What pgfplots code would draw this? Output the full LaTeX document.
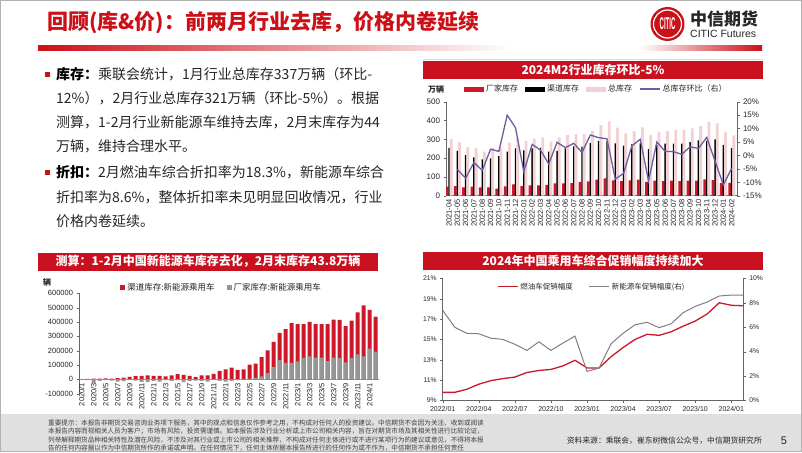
\documentclass[border=0pt]{standalone}
\usepackage{fontspec}
\setmainfont{Liberation Sans}
\newfontfamily\cjk{Noto Sans CJK SC}
\usepackage{graphicx}
\usepackage{pgfplots}
\usepackage{pgfplotstable}
\pgfplotsset{compat=1.18}

\definecolor{tred}{RGB}{204,16,24}
\definecolor{hred}{RGB}{200,16,30}
\definecolor{barred}{RGB}{204,24,40}
\definecolor{pinkbar}{RGB}{242,208,211}
\definecolor{purp}{RGB}{112,92,160}
\definecolor{txt}{RGB}{38,38,38}
\definecolor{foot}{RGB}{224,224,224}
\definecolor{nevgray}{RGB}{150,150,150}
\definecolor{linegray}{RGB}{128,128,128}

\pgfplotstableread{
i fac chan tot mom
0 48 255 301 nan
1 51 238 284 -5.2
2 44 216 259 -8.5
3 48 204 252 -2.6
4 44 193 234 -5.6
5 44 199 255 2.3
6 37 211 257 1.5
7 50 234 282 15.0
8 60 252 309 10.3
9 51 241 291 -6.1
10 55 252 305 4.1
11 55 255 310 2.0
12 57 234 287 -3.2
13 66 239 310 4.9
14 66 252 323 2.9
15 67 262 328 4.5
16 73 261 328 1.1
17 76 280 344 7.6
18 85 291 376 6.6
19 92 289 395 6.2
20 82 278 362 -8.8
21 78 266 332 -6.7
22 82 273 344 3.6
23 85 278 363 6.0
24 74 248 323 -9.5
25 80 271 339 5.0
26 78 277 344 1.5
27 80 277 349 1.4
28 78 277 349 0.4
29 80 285 358 3.2
30 80 294 372 2.6
31 87 291 394 6.7
32 83 300 385 -2.1
33 67 270 337 -11.0
34 68 253 321 -4.8
}\tabA

\pgfplotstableread{
i tot fac
0 2000 -3000
1 3000 -6000
2 5000 -25000
3 6000 -10000
4 7000 -5000
5 6000 -9000
6 9000 -15000
7 12000 -12000
8 18000 -6000
9 22000 -8000
10 25000 -18000
11 28000 -20000
12 25000 -10000
13 24000 -15000
14 20000 -6000
15 28000 -10000
16 36000 -6000
17 32000 -20000
18 24000 -12000
19 16000 -8000
20 28000 -12000
21 28000 -15000
22 38000 -4000
23 59000 -10000
24 70000 -15000
25 82000 -12000
26 67000 -5000
27 69000 3000
28 102000 6000
29 110000 10000
30 155000 20000
31 202000 44000
32 262000 86000
33 325000 134000
34 351000 115000
35 392000 115000
36 386000 125000
37 386000 150000
38 400000 160000
39 386000 152000
40 386000 152000
41 386000 127000
42 417000 152000
43 414000 148000
44 372000 118000
45 409000 148000
46 467000 174000
47 516000 160000
48 484000 214000
49 438000 193000
}\tabB

\pgfplotstableread{
i ice nev
0 9.8 7.38
1 9.8 6.0
2 10.1 5.5
3 10.6 5.46
4 10.95 5.1
5 11.15 5.0
6 11.3 4.6
7 11.75 4.1
8 11.95 4.8
9 12.05 4.1
10 12.4 4.7
11 12.95 5.27
12 12.2 2.38
13 12.2 2.65
14 13.3 4.64
15 14.2 5.5
16 15.0 6.2
17 15.5 6.4
18 15.4 5.96
19 15.75 6.28
20 16.3 7.19
21 16.8 7.7
22 17.5 8.06
23 18.6 8.55
24 18.35 8.63
25 18.3 8.63
}\tabC

\begin{document}
\begin{tikzpicture}
\path[use as bounding box] (0,0) rectangle (802pt,-452pt);
\fill[white] (0,0) rectangle (802pt,-452pt);
% footer band
\fill[foot] (0,-414pt) rectangle (802pt,-452pt);
% frame
\draw[gray!60, line width=1.2pt] (0.6pt,-0.6pt) rectangle (801.4pt,-451.4pt);

% title
\node[anchor=west, text=tred, inner sep=0pt] at (47pt,-23pt) {\cjk\bfseries\fontsize{21}{21}\selectfont 回顾(库\&价)：前两月行业去库，价格内卷延续};
% gradient rule
\shade[left color=tred, right color=white] (38pt,-46pt) rectangle (511pt,-51pt);
\shade[left color=white, right color=tred] (639pt,-46pt) rectangle (762pt,-51pt);
% logo
\fill[tred] (667.5pt,-24pt) circle (17pt);
\draw[white, line width=1.2pt] (667.5pt,-24pt) circle (14pt);
\node[text=white, inner sep=0pt] at (667.5pt,-24pt) {\bfseries\fontsize{10}{10}\selectfont\scalebox{0.6}[1.7]{CITIC}};
\node[anchor=west, inner sep=0pt, text=txt] at (690pt,-18.5pt) {\cjk\bfseries\fontsize{17}{17}\selectfont 中信期货};
\node[anchor=west, inner sep=0pt, text=txt] at (690pt,-33.5pt) {\fontsize{10.5}{10.5}\selectfont CITIC Futures};

% chart frame line
\draw[gray!25, line width=0.8pt] (423pt,-59.5pt) -- (763pt,-59.5pt);

% body text
\fill[tred] (44.5pt,-72pt) rectangle (49.5pt,-77pt);
\node[anchor=west, inner sep=0pt, text=txt] at (56pt,-74.5pt) {\cjk\fontsize{14}{14}\selectfont{\bfseries\color{black}库存：}乘联会统计，1月行业总库存337万辆（环比-};
\node[anchor=west, inner sep=0pt, text=txt] at (56pt,-98.5pt) {\cjk\fontsize{14}{14}\selectfont 12\%），2月行业总库存321万辆（环比-5\%）。根据};
\node[anchor=west, inner sep=0pt, text=txt] at (56pt,-122pt) {\cjk\fontsize{14}{14}\selectfont 测算，1-2月行业新能源车维持去库，2月末库存为44};
\node[anchor=west, inner sep=0pt, text=txt] at (56pt,-146pt) {\cjk\fontsize{14}{14}\selectfont 万辆，维持合理水平。};
\fill[tred] (44.5pt,-170pt) rectangle (49.5pt,-175pt);
\node[anchor=west, inner sep=0pt, text=txt] at (56pt,-172.5pt) {\cjk\fontsize{14}{14}\selectfont{\bfseries\color{black}折扣：}2月燃油车综合折扣率为18.3\%，新能源车综合};
\node[anchor=west, inner sep=0pt, text=txt] at (56pt,-197pt) {\cjk\fontsize{14}{14}\selectfont 折扣率为8.6\%，整体折扣率未见明显回收情况，行业};
\node[anchor=west, inner sep=0pt, text=txt] at (56pt,-221.5pt) {\cjk\fontsize{14}{14}\selectfont 价格内卷延续。};

% headers
\fill[hred] (423pt,-61pt) rectangle (763pt,-79pt);
\node[text=white, inner sep=0pt] at (593pt,-70pt) {\cjk\bfseries\fontsize{12}{12}\selectfont 2024M2行业库存环比-5\%};
\fill[hred] (38pt,-253pt) rectangle (378pt,-270.5pt);
\node[text=white, inner sep=0pt] at (208pt,-261.7pt) {\cjk\bfseries\fontsize{12}{12}\selectfont 测算：1-2月中国新能源车库存去化，2月末库存43.8万辆};
\fill[hred] (423pt,-252pt) rectangle (763pt,-269.5pt);
\node[text=white, inner sep=0pt] at (593pt,-261pt) {\cjk\bfseries\fontsize{12}{12}\selectfont 2024年中国乘用车综合促销幅度持续加大};

% unit labels
\node[inner sep=0pt, text=txt] at (436pt,-89pt) {\cjk\bfseries\fontsize{8}{8}\selectfont 万辆};
\node[inner sep=0pt, text=txt] at (47pt,-282pt) {\cjk\bfseries\fontsize{8}{8}\selectfont 辆};

% ===== top-right: inventory bars =====
\begin{axis}[
  at={(446pt,-195.7pt)}, anchor=south west, scale only axis,
  width=291pt, height=94pt,
  xmin=-0.36, xmax=34.64, ymin=0, ymax=500,
  axis x line*=bottom, axis y line*=left,
  axis line style={black!60, line width=0.6pt},
  ytick={0,100,200,300,400,500},
  y tick label style={font=\fontsize{8}{8}\selectfont, text=txt},
  xtick={0,...,34},
  xticklabels={2021-04,2021-05,2021-06,2021-07,2021-08,2021-09,2021-10,2021-11,2021-12,2022-01,2022-02,2022-03,2022-04,2022-05,2022-06,2022-07,2022-08,2022-09,2022-10,2022-11,2022-12,2023-01,2023-02,2023-03,2023-04,2023-05,2023-06,2023-07,2023-08,2023-09,2023-10,2023-11,2023-12,2024-01,2024-02},
  x tick label style={rotate=90, anchor=east, font=\fontsize{7.5}{7.5}\selectfont, text=txt, inner sep=1pt},
  major x tick style={draw=none},
  tick align=outside, major tick length=2.5pt,
  tick style={black!60},
  /pgf/number format/assume math mode=true,
  legend columns=4,
  legend style={at={(0.062,1.135)}, anchor=west, draw=none, fill=none, inner sep=0pt,
    font=\cjk\fontsize{8}{8}\selectfont, text=txt,
    /tikz/every even column/.append style={column sep=5pt}},
  legend cell align=left,
]
\addplot[ybar, bar width=2.8pt, bar shift=-2pt, fill=barred, draw=none,
  legend image code/.code={\fill[barred] (0pt,-2.5pt) rectangle (20pt,2.5pt);}] table[x=i,y=fac]{\tabA};
\addlegendentry{厂家库存}
\addplot[ybar, bar width=1.4pt, bar shift=0pt, fill=black, draw=none,
  legend image code/.code={\fill[black] (0pt,-2.5pt) rectangle (20pt,2.5pt);}] table[x=i,y=chan]{\tabA};
\addlegendentry{渠道库存}
\addplot[ybar, bar width=2.8pt, bar shift=2.2pt, fill=pinkbar, draw=none,
  legend image code/.code={\fill[pinkbar] (0pt,-2.5pt) rectangle (20pt,2.5pt);}] table[x=i,y=tot]{\tabA};
\addlegendentry{总库存}
\addlegendimage{legend image code/.code={\draw[purp, line width=1.3pt] (0pt,0pt) -- (20pt,0pt);}}
\addlegendentry{总库存环比（右）}
\end{axis}
\begin{axis}[
  at={(446pt,-195.7pt)}, anchor=south west, scale only axis,
  width=291pt, height=94pt,
  xmin=-0.36, xmax=34.64, ymin=-15, ymax=20,
  axis x line=none, axis y line*=right,
  axis line style={black!60, line width=0.6pt},
  ytick={-15,-10,-5,0,5,10,15,20},
  yticklabel={\pgfmathprintnumber{\tick}\%},
  y tick label style={font=\fontsize{8}{8}\selectfont, text=txt},
  tick align=outside, major tick length=2.5pt,
  tick style={black!60},
  /pgf/number format/assume math mode=true,
]
\addplot[purp, line width=1.3pt, mark=none] table[x=i,y=mom]{\tabA};
\end{axis}

% ===== bottom-left: NEV inventory =====
\begin{axis}[
  at={(79pt,-393.7pt)}, anchor=south west, scale only axis,
  width=299.7pt, height=100.4pt,
  xmin=-0.45, xmax=49.5, ymin=-100000, ymax=600000,
  axis x line=middle, axis y line=left,
  x axis line style={-, draw=black!40},
  y axis line style={-, draw=black!60},
  hide obscured x ticks=false, hide obscured y ticks=false,
  scaled y ticks=false,
  ytick={-100000,0,100000,200000,300000,400000,500000,600000},
  /pgf/number format/fixed, /pgf/number format/1000 sep={},
  /pgf/number format/assume math mode=true,
  y tick label style={font=\fontsize{7.5}{7.5}\selectfont, text=txt},
  xtick={0,2,...,48},
  xticklabels={2020/1,2020/3,2020/5,2020/7,2020/9,2020/11,2021/1,2021/3,2021/5,2021/7,2021/9,2021/11,2022/1,2022/3,2022/5,2022/7,2022/9,2022/11,2023/1,2023/3,2023/5,2023/7,2023/9,2023/11,2024/1},
  x tick label style={rotate=90, anchor=east, font=\fontsize{7.5}{7.5}\selectfont, text=txt, inner sep=1pt},
  major x tick style={draw=none},
  tick align=outside, major tick length=2.5pt,
  tick style={black!60},
  legend columns=2,
  legend style={at={(0.137,1.053)}, anchor=west, draw=none, fill=none, inner sep=0pt,
    font=\cjk\fontsize{8.5}{8.5}\selectfont, text=txt,
    /tikz/every even column/.append style={column sep=10pt}},
  legend cell align=left,
]
\addplot[ybar, bar width=4pt, bar shift=0pt, fill=barred, draw=none,
  legend image code/.code={\fill[barred] (0pt,-2.5pt) rectangle (5pt,2.5pt);}] table[x=i,y=tot]{\tabB};
\addlegendentry{渠道库存:新能源乘用车}
\addplot[ybar, bar width=4pt, bar shift=0pt, fill=nevgray, draw=none,
  legend image code/.code={\fill[nevgray] (0pt,-2.5pt) rectangle (5pt,2.5pt);}] table[x=i,y=fac]{\tabB};
\addlegendentry{厂家库存:新能源乘用车}
\end{axis}

% ===== bottom-right: promotion =====
\begin{axis}[
  at={(442.7pt,-400.5pt)}, anchor=south west, scale only axis,
  width=300.6pt, height=122.2pt,
  xmin=0, xmax=25, ymin=9, ymax=21,
  axis x line*=bottom, axis y line*=left,
  axis line style={black!60, line width=0.6pt},
  ytick={9,11,13,15,17,19,21},
  yticklabel={\pgfmathprintnumber{\tick}\%},
  /pgf/number format/assume math mode=true,
  y tick label style={font=\fontsize{6.8}{6.8}\selectfont, text=txt},
  xtick={0,3,6,9,12,15,18,21,24},
  xticklabels={2022/01,2022/04,2022/07,2022/10,2023/01,2023/04,2023/07,2023/10,2024/01},
  x tick label style={font=\fontsize{7}{7}\selectfont, text=txt},
  tick align=outside, major tick length=2.5pt,
  tick style={black!60},
  legend columns=2,
  legend style={at={(0.18,0.931)}, anchor=west, draw=none, fill=none, inner sep=0pt,
    font=\cjk\fontsize{7.5}{7.5}\selectfont, text=txt,
    /tikz/every even column/.append style={column sep=14pt}},
  legend cell align=left,
]
\addplot[barred, line width=1.3pt, mark=none,
  legend image code/.code={\draw[barred, line width=1.3pt] (0pt,0pt) -- (20pt,0pt);}] table[x=i,y=ice]{\tabC};
\addlegendentry{燃油车促销幅度}
\addlegendimage{legend image code/.code={\draw[linegray, line width=1pt] (0pt,0pt) -- (20pt,0pt);}}
\addlegendentry{新能源车促销幅度(右)}
\end{axis}
\begin{axis}[
  at={(442.7pt,-400.5pt)}, anchor=south west, scale only axis,
  width=300.6pt, height=122.2pt,
  xmin=0, xmax=25, ymin=0, ymax=10,
  axis x line=none, axis y line*=right,
  axis line style={black!60, line width=0.6pt},
  ytick={0,2,4,6,8,10},
  yticklabel={\pgfmathprintnumber{\tick}\%},
  /pgf/number format/assume math mode=true,
  y tick label style={font=\fontsize{6.8}{6.8}\selectfont, text=txt},
  tick align=outside, major tick length=2.5pt,
  tick style={black!60},
]
\addplot[linegray, line width=1pt, mark=none] table[x=i,y=nev]{\tabC};
\end{axis}

% footer
\node[anchor=west, inner sep=0pt, text=black!75] at (48pt,-423pt) {\cjk\fontsize{6.6}{6.6}\selectfont 重要提示：本报告非期货交易咨询业务项下服务，其中的观点和信息仅作参考之用，不构成对任何人的投资建议。中信期货不会因为关注、收到或阅读};
\node[anchor=west, inner sep=0pt, text=black!75] at (48pt,-431.5pt) {\cjk\fontsize{6.6}{6.6}\selectfont 本报告内容而视相关人员为客户；市场有风险，投资需谨慎。如本报告涉及行业分析或上市公司相关内容，旨在对期货市场及其相关性进行比较论证，};
\node[anchor=west, inner sep=0pt, text=black!75] at (48pt,-440pt) {\cjk\fontsize{6.6}{6.6}\selectfont 列举解释期货品种相关特性及潜在风险，不涉及对其行业或上市公司的相关推荐，不构成对任何主体进行或不进行某项行为的建议或意见，不得将本报};
\node[anchor=west, inner sep=0pt, text=black!75] at (48pt,-448.5pt) {\cjk\fontsize{6.6}{6.6}\selectfont 告的任何内容据以作为中信期货所作的承诺或声明。在任何情况下，任何主体依据本报告所进行的任何作为或不作为，中信期货不承担任何责任};
\node[anchor=east, inner sep=0pt, text=txt] at (762pt,-441pt) {\cjk\fontsize{7.8}{7.8}\selectfont 资料来源：乘联会，崔东树微信公众号，中信期货研究所};
\node[inner sep=0pt, text=txt] at (784pt,-441pt) {\fontsize{11}{11}\selectfont 5};
\end{tikzpicture}
\end{document}
